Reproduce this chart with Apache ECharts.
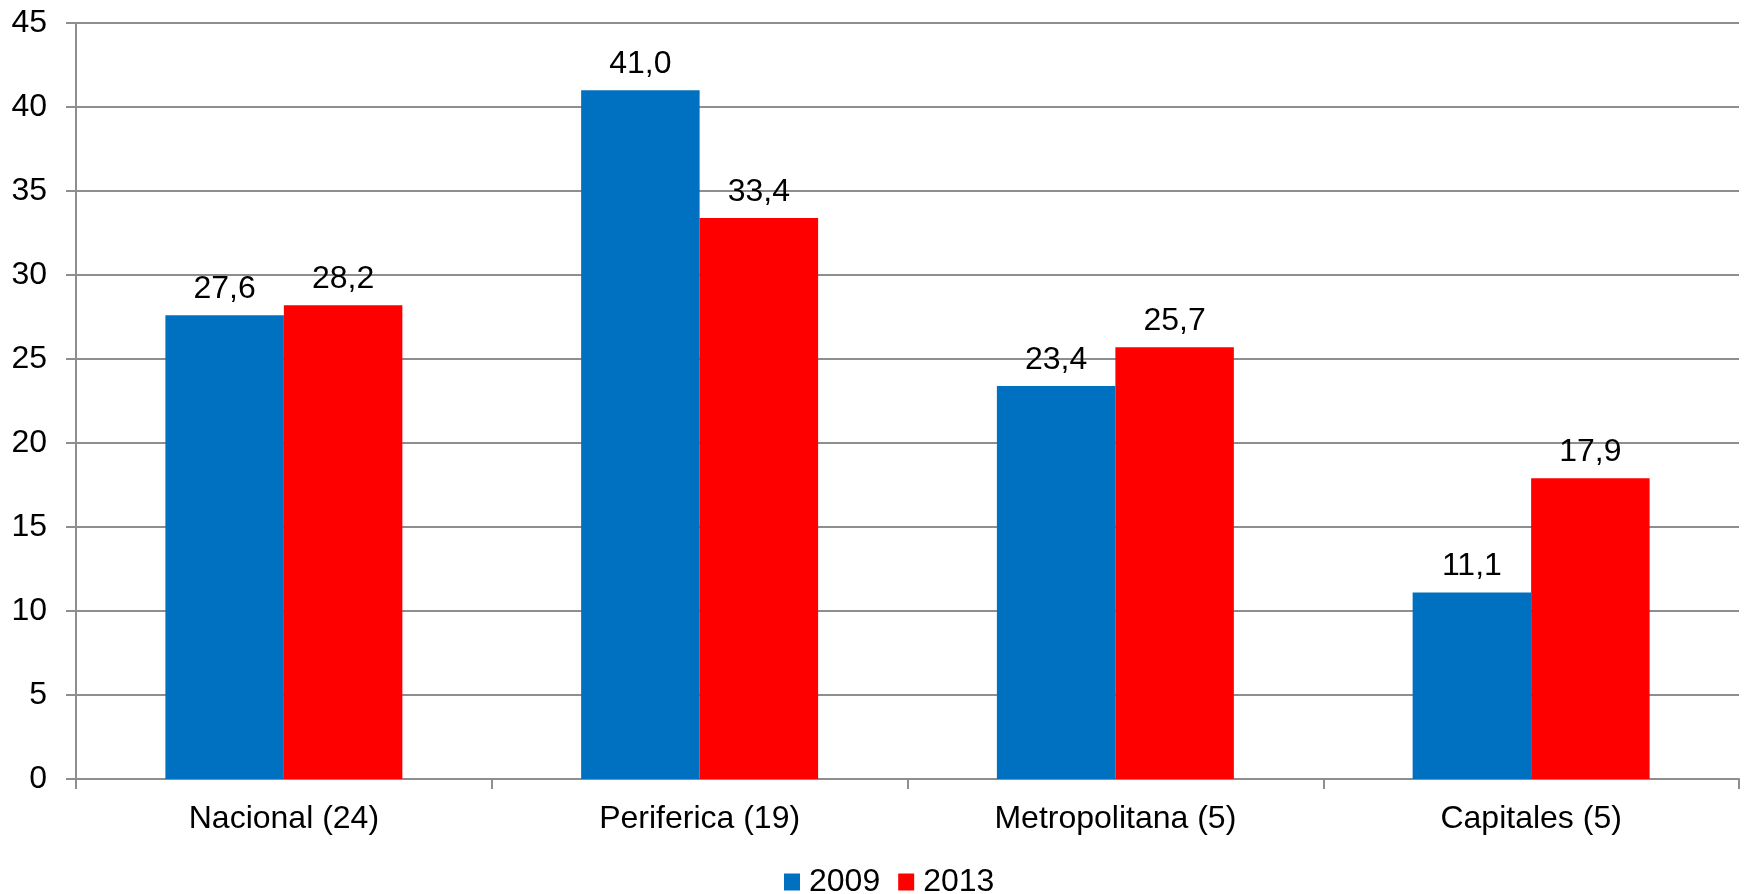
<!DOCTYPE html>
<html>
<head>
<meta charset="utf-8">
<script src="https://cdn.jsdelivr.net/npm/echarts@6/dist/echarts.min.js"></script>
<style>
html,body{margin:0;padding:0;background:#fff;}
#main{width:1744px;height:894px;}
</style>
</head>
<body>
<div id="main"></div>
<script>
var categories = ['Nacional (24)', 'Periferica (19)', 'Metropolitana (5)', 'Capitales (5)'];
var values2009 = [27.6, 41.0, 23.4, 11.1];
var values2013 = [28.2, 33.4, 25.7, 17.9];
var seriesNames = ['2009', '2013'];

var chart = echarts.init(document.getElementById('main'));
var FONT = '"Liberation Sans", Arial, sans-serif';
var AXIS_COLOR = '#8e8e8e';
function fmt(p){ return p.value.toFixed(1).replace('.', ','); }
var labelStyle = {show:true, position:'top', distance:10, formatter:fmt, color:'#000', fontSize:32, fontFamily:FONT};

chart.setOption({
  animation:false,
  backgroundColor:'#fff',
  grid:{left:76, right:5, top:23, bottom:115, containLabel:false},
  legend:{
    data:seriesNames, left:779, top:861, itemWidth:16, itemHeight:17, itemGap:18,
    icon:'rect', textStyle:{fontSize:32, fontFamily:FONT, color:'#000', padding:[0,0,0,4]}
  },
  xAxis:{
    type:'category', data:categories,
    axisLine:{lineStyle:{color:AXIS_COLOR, width:2}},
    axisTick:{show:true, length:10, alignWithLabel:false, lineStyle:{color:AXIS_COLOR, width:2}},
    axisLabel:{fontSize:32, fontFamily:FONT, color:'#000', margin:24}
  },
  yAxis:{
    type:'value', min:0, max:45, interval:5,
    axisLine:{show:true, lineStyle:{color:AXIS_COLOR, width:2}},
    axisTick:{show:true, length:10, lineStyle:{color:AXIS_COLOR, width:2}},
    splitLine:{show:true, lineStyle:{color:AXIS_COLOR, width:2}},
    axisLabel:{fontSize:32, fontFamily:FONT, color:'#000', margin:29}
  },
  series:[
    {name:seriesNames[0], type:'bar', data:values2009, barGap:'0%', barCategoryGap:'43%',
     itemStyle:{color:'#0070C0'}, label:labelStyle},
    {name:seriesNames[1], type:'bar', data:values2013, barGap:'0%', barCategoryGap:'43%',
     itemStyle:{color:'#FF0000'}, label:labelStyle}
  ]
});
</script>
</body>
</html>
